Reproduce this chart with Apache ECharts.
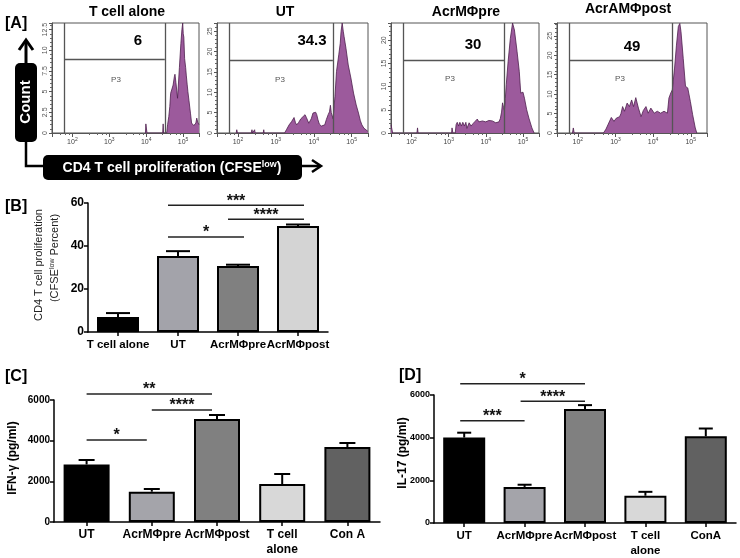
<!DOCTYPE html>
<html><head><meta charset="utf-8">
<script src="https://cdn.jsdelivr.net/npm/echarts@6/dist/echarts.min.js"></script>
<style>html,body{margin:0;padding:0;background:#fff}#c{width:740px;height:558px}</style>
</head><body><div id="c"></div>
<script>
// ---------------- DATA ----------------
// [A] flow histograms: [CFSE intensity, count]
const histTitles = ['T cell alone', 'UT', 'AcrMΦpre', 'AcrAMΦpost'];
const histPercent = ['6', '34.3', '30', '49'];
const histYMax = [13.3, 27, 23.7, 28.3];
const histYStep = [2.5, 5, 5, 5];
const histGateY = [8.9, 17.9, 15.7, 18.7];
const gateLow = 60, gateHigh = 32000;
const histXMin = 28, histXMax = 270000;

const histTcellAlone = [[9550,0],[9800,1.1],[10200,1.1],[10500,0],[28000,0],[28840,1.1],[29600,0],
 [36000,0],[38019,1.0],[41000,2.0],[43652,3.2],[46000,4.8],[48978,5.2],[53703,5.8],[58000,6.8],[60256,7.1],
 [64000,6.1],[67608,5.9],[70795,4.2],[74131,4.0],[79433,7.9],[87096,10.8],[93000,12.5],[97724,13.3],
 [101000,12.0],[104713,11.6],[110000,9.0],[117490,7.9],[122000,7.0],[128825,5.9],[135000,5.0],[144544,3.9],
 [158489,2.4],[170000,1.2],[181970,1.0],[195000,0.9],[208930,0.8],[222000,1.2],[234423,1.8],[250000,1.3],[269153,1.0]];
const histUT = [[90,0],[93,0.8],[97,0],[225,0],[234,0.8],[244,0],[268,0],[275,0.8],[284,0],[465,0],[479,0.8],[494,0],
 [1700,0],[1900,0.8],[2239,2.0],[2600,2.8],[3020,3.8],[3300,2.5],[3548,2.0],[4000,2.6],[4571,3.5],[5129,3.2],
 [5888,4.5],[6400,3.8],[6918,3.5],[7400,2.4],[7943,2.0],[8600,3.5],[9550,4.9],[11220,5.1],[12000,4.5],[12882,3.3],
 [14000,2.2],[15849,1.7],[17500,1.8],[19498,2.0],[21500,3.3],[23988,4.5],[26000,5.2],[27542,6.8],[29000,5.0],
 [32359,3.5],[34000,6.0],[36308,9.0],[39811,15.1],[45709,19.2],[50000,22.0],[52481,24.9],[56234,27.0],[60000,25.0],
 [63096,23.7],[70795,20.8],[81283,16.7],[95499,13.5],[112202,9.8],[131826,6.9],[151356,4.9],[170000,3.0],
 [186209,2.0],[210000,1.2],[229087,0.8],[260000,0.5],[270000,0.4]];
const histPre = [[28,1.8],[31,0],[140,0],[145,1.1],[150,0],[1200,0],[1230,1.1],[1300,0],[1500,0],
 [1585,1.8],[1700,2.3],[1850,1.5],[2000,2.3],[2200,1.5],[2400,2.3],[2650,1.5],[2900,2.3],[3100,1.0],[3350,1.0],
 [3550,2.2],[4000,1.5],[4500,2.0],[5129,2.5],[5888,3.0],[6500,2.4],[7244,2.1],[8100,2.6],[8913,3.0],[9900,2.4],
 [10965,2.1],[12100,2.7],[13490,3.0],[15000,2.6],[16596,2.6],[18500,2.2],[20417,2.1],[22500,2.4],[24547,3.1],
 [26500,4.5],[28184,6.5],[30000,5.5],[31623,4.9],[33500,7.5],[35481,10.4],[39811,15.4],[45709,20.4],[52481,23.7],
 [58884,22.2],[69183,17.6],[79433,13.3],[87096,8.6],[100000,8.8],[109648,7.5],[125893,5.0],[144544,3.2],
 [173780,1.1],[199526,0]];
const histPost = [[72,0],[76,1.3],[80,0],[480,0],[513,0.5],[560,1.0],[631,2.1],[776,4.0],[912,3.0],[1047,3.8],
 [1288,4.2],[1400,5.0],[1549,6.8],[1738,5.6],[2042,7.7],[2344,6.8],[2692,8.5],[3020,6.8],[3467,9.1],[4074,6.4],
 [4786,4.2],[5495,5.8],[6457,6.8],[7413,5.1],[8710,6.4],[10715,5.1],[12882,5.6],[15849,5.1],[19498,5.6],
 [23988,5.1],[26303,9.0],[29512,10.3],[32359,11.1],[37154,16.7],[41687,22.6],[46774,27.4],[51286,28.2],
 [54954,26.1],[63096,19.2],[72444,12.0],[83176,11.6],[97724,8.1],[112202,4.7],[131826,1.3],[144544,0]];
const histData = [histTcellAlone, histUT, histPre, histPost];

// [B] CD4 T cell proliferation (%)
const catsB = ['T cell alone', 'UT', 'AcrMΦpre', 'AcrMΦpost'];
const valsB = [7.0, 35.3, 30.7, 49.3];
const errTopB = [8.8, 37.6, 31.3, 50.0];
const sigB = [[1, 3, 59], [2, 3, 52.5], [1, 2, 44.2]];
const sigLabelB = ['***', '****', '*'];

// [C] IFN-γ (pg/ml)
const catsC = ['UT', 'AcrMΦpre', 'AcrMΦpost', 'T cell\nalone', 'Con A'];
const valsC = [2830, 1490, 5066, 1869, 3689];
const errTopC = [3049, 1623, 5262, 2361, 3885];
const sigC = [[0, 2, 6295], [1, 2, 5508], [0, 1, 4033]];
const sigLabelC = ['**', '****', '*'];

// [D] IL-17 (pg/ml)
const catsD = ['UT', 'AcrMΦpre', 'AcrMΦpost', 'T cell\nalone', 'ConA'];
const valsD = [4005, 1690, 5342, 1279, 4064];
const errTopD = [4233, 1794, 5525, 1461, 4429];
const sigD = [[0, 2, 6530], [1, 2, 5708], [0, 1, 4794]];
const sigLabelD = ['*', '****', '***'];

// ---------------- STYLE / LAYOUT ----------------
const FF = '"Liberation Sans", Arial, sans-serif';
const colorsB = ['#000000', '#a3a3aa', '#808080', '#d4d4d4'];
const colorsCD = ['#000000', '#a4a4aa', '#808080', '#d8d8d8', '#616161'];
const histLayout = [
  {left: 52, width: 147, tx: 127, ty: 12, px: 138, py: 41, p3x: 116, p3y: 80},
  {left: 217, width: 151, tx: 285, ty: 12, px: 312, py: 41, p3x: 280, p3y: 80},
  {left: 391, width: 148, tx: 466, ty: 12, px: 473, py: 45, p3x: 450, p3y: 79},
  {left: 557, width: 150, tx: 628, ty: 9, px: 632, py: 47, p3x: 620, p3y: 79}
];
const barPanels = [
  {grid: {left: 88, top: 203, width: 240, height: 129}, cats: catsB, vals: valsB, err: errTopB, sig: sigB, sigLab: sigLabelB,
   colors: colorsB, max: 60, step: 20, barW: 42, capW: 24, off: [-10, 6], yFont: 12, xFont: 11.5},
  {grid: {left: 54, top: 400, width: 326, height: 122}, cats: catsC, vals: valsC, err: errTopC, sig: sigC, sigLab: sigLabelC,
   colors: colorsCD, max: 6000, step: 2000, barW: 46, capW: 16, off: [0, -5], yFont: 10, xFont: 12},
  {grid: {left: 434, top: 395, width: 302, height: 131}, cats: catsD, vals: valsD, err: errTopD, sig: sigD, sigLab: sigLabelD,
   colors: colorsCD, max: 6000, step: 2000, barW: 42, capW: 14, off: [-4, 0], yFont: 9, xFont: 11.5}
];

const grids = [], xAxes = [], yAxes = [], series = [], graphic = [];

histData.forEach((data, i) => {
  const L = histLayout[i];
  grids.push({left: L.left, top: 23, width: L.width, height: 110, show: true, borderColor: '#555', borderWidth: 1});
  xAxes.push({
    type: 'log', logBase: 10, gridIndex: i, min: histXMin, max: histXMax,
    axisLine: {show: true, lineStyle: {color: '#555', width: 1}},
    axisTick: {show: true, length: 4, lineStyle: {color: '#555'}},
    minorTick: {show: true, splitNumber: 5, length: 2, lineStyle: {color: '#666'}},
    splitLine: {show: false},
    axisLabel: {
      margin: 4, color: '#444',
      formatter: v => {
        const e = Math.log10(v), r = Math.round(e);
        return Math.abs(e - r) < 1e-6 ? '{b|10}{s|' + r + '}' : '';
      },
      rich: {b: {fontSize: 7, color: '#444', fontFamily: FF}, s: {fontSize: 5, color: '#444', padding: [0, 0, 5, 0], fontFamily: FF}}
    }
  });
  yAxes.push({
    type: 'value', gridIndex: i, min: 0, max: histYMax[i], interval: histYStep[i],
    axisLine: {show: true, lineStyle: {color: '#555'}},
    axisTick: {show: true, length: 3, lineStyle: {color: '#555'}},
    minorTick: {show: true, splitNumber: 5, length: 2, lineStyle: {color: '#666'}},
    splitLine: {show: false},
    axisLabel: {rotate: 90, fontSize: 7, color: '#555', margin: 3, showMaxLabel: false, fontFamily: FF}
  });
  series.push({
    type: 'line', xAxisIndex: i, yAxisIndex: i, data: data, symbol: 'none', z: 2,
    lineStyle: {color: '#4e1f4e', width: 0.8},
    areaStyle: {color: '#9c5a9c', opacity: 1},
    markLine: {
      silent: true, symbol: ['none', 'none'], label: {show: false},
      lineStyle: {color: '#555', width: 1.3, type: 'solid'},
      data: [{xAxis: gateLow}, {xAxis: gateHigh}, [{coord: [gateLow, histGateY[i]]}, {coord: [gateHigh, histGateY[i]]}]]
    }
  });
  graphic.push({type: 'text', x: L.tx, y: L.ty, style: {text: histTitles[i], font: 'bold 14px ' + FF, fill: '#000', align: 'center', verticalAlign: 'middle'}});
  graphic.push({type: 'text', x: L.px, y: L.py, z: 10, style: {text: histPercent[i], font: 'bold 15px ' + FF, fill: '#000', align: 'center', verticalAlign: 'middle'}});
  graphic.push({type: 'text', x: L.p3x, y: L.p3y, z: 10, style: {text: 'P3', font: '8px ' + FF, fill: '#555', align: 'center', verticalAlign: 'middle'}});
});

barPanels.forEach((P, k) => {
  const gi = 4 + k;
  grids.push(P.grid);
  xAxes.push({
    type: 'category', gridIndex: gi, data: P.cats,
    axisLine: {show: true, lineStyle: {color: '#000', width: 1.5}},
    axisTick: {show: true, alignWithLabel: true, length: 4, lineStyle: {color: '#000', width: 1.5}},
    axisLabel: {fontSize: P.xFont, fontWeight: 'bold', color: '#000', margin: 5, lineHeight: 15, fontFamily: FF, interval: 0, hideOverlap: false}
  });
  yAxes.push({
    type: 'value', gridIndex: gi, min: 0, max: P.max, interval: P.step,
    axisLine: {show: true, lineStyle: {color: '#000', width: 1.5}},
    axisTick: {show: true, length: 4, lineStyle: {color: '#000', width: 1.5}},
    splitLine: {show: false},
    axisLabel: {fontSize: P.yFont, fontWeight: 'bold', color: '#000', margin: 4, fontFamily: FF, formatter: v => String(v)}
  });
  series.push({
    type: 'bar', xAxisIndex: gi, yAxisIndex: gi, barWidth: P.barW, z: 2,
    data: P.vals.map((v, i) => ({value: v, itemStyle: {color: P.colors[i], borderColor: '#000', borderWidth: 2}}))
  });
  series.push({
    type: 'custom', xAxisIndex: gi, yAxisIndex: gi, z: 3, silent: true,
    data: P.vals.map((v, i) => [i, v, P.err[i]]),
    encode: {x: 0, y: [1, 2]},
    renderItem: (params, api) => {
      const b = api.coord([api.value(0), api.value(1)]);
      const t = api.coord([api.value(0), api.value(2)]);
      return {type: 'group', children: [
        {type: 'line', shape: {x1: b[0], y1: b[1], x2: t[0], y2: t[1]}, style: {stroke: '#000', lineWidth: 2}},
        {type: 'line', shape: {x1: t[0] - P.capW / 2, y1: t[1], x2: t[0] + P.capW / 2, y2: t[1]}, style: {stroke: '#000', lineWidth: 2}}
      ]};
    }
  });
  series.push({
    type: 'custom', xAxisIndex: gi, yAxisIndex: gi, z: 4, silent: true, clip: false,
    data: P.sig,
    encode: {x: [0, 1], y: 2},
    renderItem: (params, api) => {
      const a = api.coord([api.value(0), api.value(2)]);
      const b = api.coord([api.value(1), api.value(2)]);
      const x1 = a[0] + P.off[0], x2 = b[0] + P.off[1];
      return {type: 'group', children: [
        {type: 'line', shape: {x1: x1, y1: a[1], x2: x2, y2: a[1]}, style: {stroke: '#222', lineWidth: 1.5}},
        {type: 'text', style: {text: P.sigLab[params.dataIndex], x: (x1 + x2) / 2, y: a[1] + 4, align: 'center', verticalAlign: 'bottom', font: 'bold 16px ' + FF, fill: '#111'}}
      ]};
    }
  });
});

// panel labels
[['[A]', 5, 24], ['[B]', 5, 207], ['[C]', 5, 377], ['[D]', 399, 376]].forEach(p => {
  graphic.push({type: 'text', x: p[1], y: p[2], style: {text: p[0], font: 'bold 16px ' + FF, fill: '#000', align: 'left', verticalAlign: 'middle'}});
});

// Count / CFSE arrows
graphic.push({type: 'polyline', shape: {points: [[26, 63], [26, 42]]}, style: {stroke: '#000', lineWidth: 3}});
graphic.push({type: 'polyline', shape: {points: [[19, 50], [26, 40], [33, 50]]}, style: {stroke: '#000', lineWidth: 3, fill: 'none'}});
graphic.push({type: 'polyline', shape: {points: [[26, 140], [26, 166], [45, 166]]}, style: {stroke: '#000', lineWidth: 2.5, fill: 'none'}});
graphic.push({type: 'rect', shape: {x: 15, y: 63, width: 22, height: 79, r: 5}, style: {fill: '#000'}});
graphic.push({type: 'text', x: 26, y: 102, rotation: Math.PI / 2, style: {text: 'Count', font: 'bold 15px ' + FF, fill: '#fff', align: 'center', verticalAlign: 'middle'}});
graphic.push({type: 'polyline', shape: {points: [[300, 166], [320, 166]]}, style: {stroke: '#000', lineWidth: 2.5}});
graphic.push({type: 'polyline', shape: {points: [[312, 160], [321, 166], [312, 172]]}, style: {stroke: '#000', lineWidth: 2.5, fill: 'none'}});
graphic.push({type: 'rect', shape: {x: 43, y: 155, width: 259, height: 25, r: 5}, style: {fill: '#000'}});
graphic.push({type: 'text', x: 172, y: 168, style: {
  text: '{m|CD4 T cell proliferation (CFSE}{s|low}{m|)}', align: 'center', verticalAlign: 'middle',
  rich: {m: {font: 'bold 14px ' + FF, fill: '#fff'}, s: {font: 'bold 9px ' + FF, fill: '#fff', padding: [0, 0, 6, 0]}}
}});

// axis titles
graphic.push({type: 'text', x: 39, y: 265, rotation: Math.PI / 2, style: {text: 'CD4 T cell proliferation', font: '11px ' + FF, fill: '#222', align: 'center', verticalAlign: 'middle'}});
graphic.push({type: 'text', x: 55, y: 258, rotation: Math.PI / 2, style: {
  text: '{m|(CFSE}{s|low}{m| Percent)}', align: 'center', verticalAlign: 'middle',
  rich: {m: {font: '11px ' + FF, fill: '#222'}, s: {font: '7px ' + FF, fill: '#222', padding: [0, 0, 5, 0]}}
}});
graphic.push({type: 'text', x: 13, y: 458, rotation: Math.PI / 2, style: {text: 'IFN-γ (pg/ml)', font: 'bold 12px ' + FF, fill: '#000', align: 'center', verticalAlign: 'middle'}});
graphic.push({type: 'text', x: 403, y: 453, rotation: Math.PI / 2, style: {text: 'IL-17 (pg/ml)', font: 'bold 12px ' + FF, fill: '#000', align: 'center', verticalAlign: 'middle'}});

const chart = echarts.init(document.getElementById('c'), null, {renderer: 'canvas'});
chart.setOption({
  animation: false,
  backgroundColor: '#fff',
  textStyle: {fontFamily: FF},
  grid: grids, xAxis: xAxes, yAxis: yAxes, series: series, graphic: graphic
});
</script>
</body></html>
